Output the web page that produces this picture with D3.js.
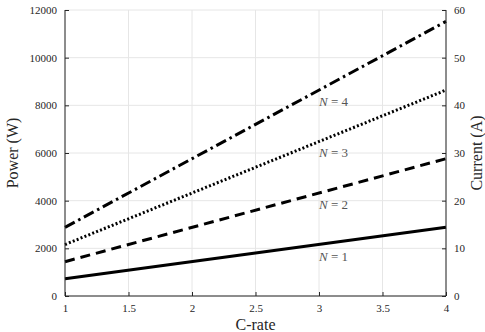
<!DOCTYPE html>
<html><head><meta charset="utf-8">
<script src="https://cdn.jsdelivr.net/npm/d3@7"></script>
<style>body{margin:0;background:#fff}svg{display:block}</style>
</head><body>
<script>
const cRate = [1, 4];
const series = [
  {name: "N = 1", n: "1", values: [720, 2880], dash: null},
  {name: "N = 2", n: "2", values: [1440, 5760], dash: "10,6"},
  {name: "N = 3", n: "3", values: [2160, 8640], dash: "2,2.2"},
  {name: "N = 4", n: "4", values: [2880, 11520], dash: "11,4,2.5,4"}
];
const labelX = [3, 3, 3, 3];
const labelY = [1650, 3800, 6000, 8150];
const xTicks = [1, 1.5, 2, 2.5, 3, 3.5, 4];
const yTicks = [0, 2000, 4000, 6000, 8000, 10000, 12000];
const y2Ticks = [0, 10, 20, 30, 40, 50, 60];

const W = 485, H = 332;
const m = {l: 65, r: 39, t: 10, b: 36};
const svg = d3.select("body").append("svg").attr("width", W).attr("height", H);
const x = d3.scaleLinear().domain([1, 4]).range([m.l, W - m.r]);
const y = d3.scaleLinear().domain([0, 12000]).range([H - m.b, m.t]);
const y2 = d3.scaleLinear().domain([0, 60]).range([H - m.b, m.t]);
const font = "Liberation Serif";

// grid
const g = svg.append("g");
g.selectAll(".gx").data(xTicks).join("line")
  .attr("x1", d => x(d)).attr("x2", d => x(d)).attr("y1", y(0)).attr("y2", y(12000))
  .attr("stroke", "#e6e6e6").attr("stroke-width", 1);
g.selectAll(".gy").data(yTicks).join("line")
  .attr("y1", d => y(d)).attr("y2", d => y(d)).attr("x1", x(1)).attr("x2", x(4))
  .attr("stroke", "#e6e6e6").attr("stroke-width", 1);

// lines
const line = d3.line().x((d, i) => x(cRate[i])).y(d => y(d));
svg.selectAll(".s").data(series).join("path")
  .attr("d", d => line(d.values)).attr("fill", "none").attr("stroke", "#000")
  .attr("stroke-width", 3).attr("stroke-dasharray", d => d.dash);

// labels
const lab = svg.selectAll(".lab").data(series).join("text")
  .attr("x", (d, i) => x(labelX[i])).attr("y", (d, i) => y(labelY[i]) + 4)
  .attr("font-family", font).attr("font-size", 13).attr("fill", "#555");
lab.append("tspan").attr("font-style", "italic").text("N");
lab.append("tspan").text(d => " = " + d.n);

// axes
const ax = d3.axisBottom(x).tickValues(xTicks).tickSize(-4).tickPadding(8).tickFormat(d3.format("~g"));
const ayl = d3.axisLeft(y).tickValues(yTicks).tickSize(-4).tickPadding(8).tickFormat(d3.format("d"));
const ayr = d3.axisRight(y2).tickValues(y2Ticks).tickSize(-4).tickPadding(8).tickFormat(d3.format("d"));
function style(sel) {
  sel.attr("font-family", font).attr("font-size", 11);
  sel.select(".domain").attr("stroke", "#262626");
  sel.selectAll(".tick line").attr("stroke", "#262626");
  sel.selectAll("text").attr("fill", "#262626");
}
svg.append("g").attr("transform", `translate(0,${y(0)})`).call(ax).call(style)
  .call(s => s.select(".domain").attr("d", `M${x(1)},0H${x(4)}`));
svg.append("g").attr("transform", `translate(${x(1)},0)`).call(ayl).call(style)
  .call(s => s.select(".domain").attr("d", `M0,${y(0)}V${y(12000)}`));
svg.append("g").attr("transform", `translate(${x(4)},0)`).call(ayr).call(style)
  .call(s => s.select(".domain").attr("d", `M0,${y2(0)}V${y2(60)}`));

// axis titles
svg.append("text").attr("transform", `translate(18,${(y(0) + y(12000)) / 2}) rotate(-90)`)
  .attr("text-anchor", "middle").attr("font-family", font).attr("font-size", 16).attr("fill", "#262626").text("Power (W)");
svg.append("text").attr("transform", `translate(482,${(y(0) + y(12000)) / 2}) rotate(-90)`)
  .attr("text-anchor", "middle").attr("font-family", font).attr("font-size", 16).attr("fill", "#262626").text("Current (A)");
svg.append("text").attr("x", (x(1) + x(4)) / 2).attr("y", 330)
  .attr("text-anchor", "middle").attr("font-family", font).attr("font-size", 16).attr("fill", "#262626").text("C-rate");
</script>
</body></html>
